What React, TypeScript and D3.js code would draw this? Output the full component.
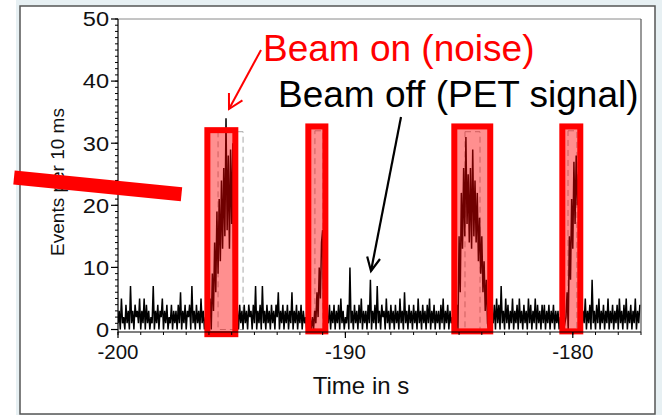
import React from 'react';
import * as d3 from 'd3';

// ---- data (events per 10 ms, sampled every 0.05 s from t = -200 s) ----
const T0 = -200;
const DT = 0.05;
const noiseA = [
  1, 3, 0, 5, 1, 2, 0, 4, 1, 3,
  0, 7, 1, 3, 0, 4, 2, 3, 1, 5,
  0, 3, 1, 5, 0, 4, 1, 3, 0, 2,
  1, 7, 0, 3, 1, 4, 0, 3, 2, 5,
  0, 3, 1, 4, 0, 2, 1, 4, 0, 3,
  1, 3, 0, 4, 1, 6, 0, 3, 1, 4,
  0, 3, 2, 4, 0, 7, 1, 3, 0, 4,
  1, 3, 0, 5, 1, 3, 0, 2, 1, 2,
];
const burst1 = [1, 5, 0, 9, 3, 14, 6, 19, 9, 21, 11, 24, 13, 26, 15, 34, 16, 28, 13, 29, 17, 30];
const noiseB = [
  2, 5, 1, 3, 0, 4, 1, 3, 0, 4,
  1, 3, 0, 4, 2, 3, 0, 4, 1, 7,
  0, 3, 1, 4, 0, 7, 1, 3, 0, 4,
  1, 3, 0, 4, 1, 3, 0, 4, 2, 6,
  0, 3, 1, 4, 0, 3, 1, 4, 0, 3,
  1, 6, 0, 3, 1, 4, 0, 3, 1, 4,
  0, 3, 1, 2, 0, 2, 1, 2, 0,
];
const burst2 = [2, 0, 3, 1, 6, 2, 10, 5, 14, 16];
const noiseC = [
  1, 3, 0, 2, 1, 4, 0, 3, 1, 4,
  0, 3, 1, 4, 0, 5, 1, 3, 0, 2,
  1, 4, 0, 10, 1, 3, 0, 4, 1, 3,
  0, 4, 1, 5, 0, 3, 1, 3, 0, 4,
  1, 8, 0, 3, 1, 4, 0, 7, 1, 3,
  0, 4, 2, 3, 0, 5, 1, 3, 0, 4,
  1, 3, 0, 4, 1, 3, 0, 5, 1, 3,
  0, 6, 1, 3, 0, 4, 1, 3, 0, 4,
  1, 3, 0, 5, 1, 3, 0, 4, 1, 3,
  0, 4, 1, 5, 0, 3, 1, 4, 0, 3,
  1, 3, 0, 4, 1, 5, 0, 3, 1, 4,
  0, 3, 1, 2, 0, 1, 2,
];
const burst3 = [
  4, 0, 15, 6, 22, 13, 26, 15, 31, 17,
  25, 14, 26, 13, 29, 15, 24, 14, 22, 11,
  18, 9, 15, 6, 11, 3, 8, 1,
];
const noiseD = [
  0, 1, 0, 2, 1, 4, 0, 5, 1, 4,
  0, 7, 1, 3, 0, 5, 1, 4, 0, 3,
  1, 5, 0, 3, 1, 4, 0, 5, 1, 3,
  0, 4, 1, 3, 0, 5, 1, 4, 0, 3,
  1, 5, 0, 4, 1, 3, 0, 4, 1, 4,
  0, 3, 1, 4, 0, 3, 1, 4, 0, 3,
  1, 3, 0, 2, 0, 1, 0, 1,
];
const burst4 = [2, 6, 0, 15, 8, 21, 13, 27, 17, 28, 20, 25];
const noiseE = [
  1, 2, 0, 3, 1, 5, 0, 3, 1, 4,
  0, 8, 1, 3, 0, 4, 1, 5, 0, 3,
  1, 4, 0, 3, 1, 5, 0, 3, 1, 4,
  0, 3, 1, 4, 0, 5, 1, 3, 0, 4,
  1, 5, 0, 3, 1, 4, 0, 3, 1, 5,
  0, 3, 1, 4,
];
const series = [
  ...noiseA, ...burst1, ...noiseB, ...burst2, ...noiseC,
  ...burst3, ...noiseD, ...burst4, ...noiseE,
];

const xTicks = [-200, -190, -180];
const yTicks = [0, 10, 20, 30, 40, 50];

// highlighted "beam on" windows (s / events)
const boxStart = [-196.07, -191.63, -185.21, -180.46];
const boxEnd = [-194.84, -190.88, -183.63, -179.67];
const boxTop = [32.1, 32.7, 32.7, 32.7];
const boxBottom = [-0.75, -0.3, -0.3, -0.3];

// faint dashed selection markers
const markStart = [-195.6, -191.34, -184.74, -180.21];
const markEnd = [-194.5, -190.99, -184.08, -179.82];
const markTop = [31.85, 32.0, 31.85, 32.0];

const FONT = '"Liberation Sans", Arial, Helvetica, sans-serif';

export default function App() {
  const W = 662, H = 415;
  const x = d3.scaleLinear().domain([-200, -177]).range([118, 641]);
  const y = d3.scaleLinear().domain([-0.4, 50]).range([332, 19]);

  const line = d3
    .line<number>()
    .x((_, i) => x(T0 + i * DT))
    .y((d) => y(d));

  const yMinor = d3.range(0, 51, 1);
  const xMinor = d3.range(-200, -176, 1);

  const arrowHead = (x1: number, y1: number, x2: number, y2: number, len: number, ang: number) => {
    const a = Math.atan2(y1 - y2, x1 - x2);
    const p1 = [x2 + len * Math.cos(a + ang), y2 + len * Math.sin(a + ang)];
    const p2 = [x2 + len * Math.cos(a - ang), y2 + len * Math.sin(a - ang)];
    return `M${p1[0]},${p1[1]}L${x2},${y2}L${p2[0]},${p2[1]}`;
  };

  return (
    <svg
      width={W}
      height={H}
      style={{ position: 'absolute', left: 0, top: 0, background: '#fff' }}
      fontFamily={FONT}
    >
      <defs>
        <clipPath id="plotclip">
          <rect x={118} y={0} width={523} height={340} />
        </clipPath>
      </defs>
      <rect x={16} y={0} width={W - 16} height={H} fill="#e7f0f3" />
      <rect x={20} y={6} width={635} height={408} fill="#fff" stroke="#555" strokeWidth={1.5} />

      {/* dashed markers */}
      {markStart.map((s, i) => (
        <rect
          key={'m' + i}
          x={x(s)}
          y={y(markTop[i])}
          width={x(markEnd[i]) - x(s)}
          height={y(0) - y(markTop[i])}
          fill="none"
          stroke="#a8a8a8"
          strokeWidth={1}
          strokeDasharray="6,4"
        />
      ))}

      {/* signal */}
      <path
        d={line(series) || ''}
        fill="none"
        stroke="#000"
        strokeWidth={1.5}
        clipPath="url(#plotclip)"
      />

      {/* boxes */}
      {boxStart.map((s, i) => (
        <rect
          key={'b' + i}
          x={x(s)}
          y={y(boxTop[i])}
          width={x(boxEnd[i]) - x(s)}
          height={y(boxBottom[i]) - y(boxTop[i])}
          fill="rgba(255,0,0,0.44)"
          stroke="#ff0000"
          strokeWidth={6}
        />
      ))}

      {/* plot frame */}
      <line x1={118} x2={641} y1={19} y2={19} stroke="#8a8a8a" strokeWidth={1} />
      <line x1={641} x2={641} y1={19} y2={332} stroke="#555" strokeWidth={1.2} />
      <line x1={118} x2={118} y1={19} y2={332.5} stroke="#000" strokeWidth={1.2} />
      <line x1={118} x2={641} y1={332} y2={332} stroke="#000" strokeWidth={1.2} />

      {/* y ticks */}
      {yMinor.map((v) => (
        <line key={'ym' + v} x1={115} x2={118} y1={y(v)} y2={y(v)} stroke="#000" strokeWidth={1} />
      ))}
      {yTicks.map((v) => (
        <g key={'yt' + v}>
          <line x1={111} x2={118} y1={y(v)} y2={y(v)} stroke="#000" strokeWidth={1.2} />
          <text
            transform={`translate(109,${y(v)}) scale(1.15,1)`}
            dy="0.36em"
            textAnchor="end"
            fontSize={20.5}
            fill="#111"
          >
            {v}
          </text>
        </g>
      ))}

      {/* x ticks */}
      {xMinor.map((v) => (
        <line key={'xm' + v} x1={x(v)} x2={x(v)} y1={332} y2={335} stroke="#000" strokeWidth={1} />
      ))}
      {xTicks.map((v) => (
        <g key={'xt' + v}>
          <line x1={x(v)} x2={x(v)} y1={332} y2={338} stroke="#000" strokeWidth={1.2} />
          <text x={x(v)} y={359} textAnchor="middle" fontSize={20.5} fill="#111">
            {v}
          </text>
        </g>
      ))}

      <text x={361} y={394} textAnchor="middle" fontSize={24} fill="#111">
        Time in s
      </text>
      <text
        transform="translate(64,182) rotate(-90)"
        textAnchor="middle"
        fontSize={19}
        fill="#111"
      >
        Events per 10 ms
      </text>

      {/* annotations */}
      <text x={263} y={61} fontSize={37} fill="#ff0000">
        Beam on (noise)
      </text>
      <text x={278} y={107} fontSize={37} fill="#000">
        Beam off (PET signal)
      </text>
      <line x1={261} y1={50} x2={229} y2={109} stroke="#ff0000" strokeWidth={2} />
      <path d={arrowHead(261, 50, 229, 109, 16, 0.5)} fill="none" stroke="#ff0000" strokeWidth={2} />
      <line x1={401} y1={117} x2={371} y2={271} stroke="#000" strokeWidth={2.2} />
      <path d={arrowHead(401, 117, 371, 271, 15, 0.45)} fill="none" stroke="#000" strokeWidth={2.2} />

      {/* red slanted bar */}
      <line x1={14} y1={177.5} x2={181.5} y2={194.3} stroke="#ff0000" strokeWidth={14} />
    </svg>
  );
}
